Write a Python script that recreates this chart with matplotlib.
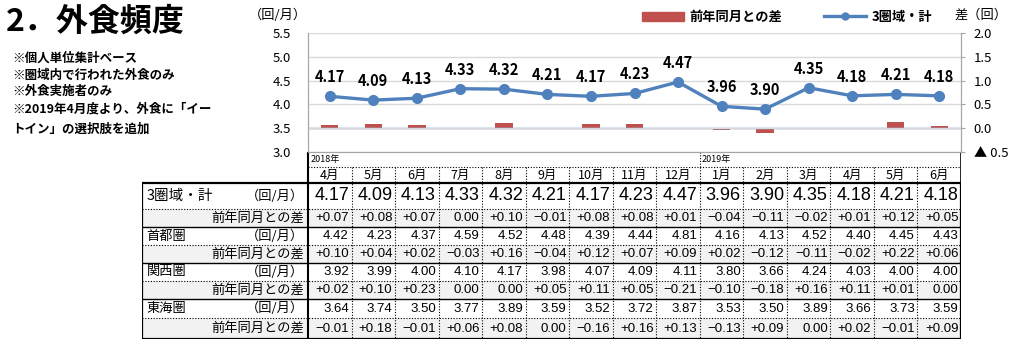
import matplotlib
matplotlib.use('Agg')
import matplotlib.pyplot as plt
from matplotlib.patches import Patch, Rectangle
from matplotlib.lines import Line2D
from matplotlib.ticker import FuncFormatter

plt.rcParams['font.family'] = ['Noto Sans CJK JP', 'DejaVu Sans']

months = ['4月', '5月', '6月', '7月', '8月', '9月', '10月', '11月', '12月',
          '1月', '2月', '3月', '4月', '5月', '6月']
total = [4.17, 4.09, 4.13, 4.33, 4.32, 4.21, 4.17, 4.23, 4.47, 3.96, 3.90, 4.35, 4.18, 4.21, 4.18]
total_diff = [0.07, 0.08, 0.07, 0.00, 0.10, -0.01, 0.08, 0.08, 0.01, -0.04, -0.11, -0.02, 0.01, 0.12, 0.05]
shuto = [4.42, 4.23, 4.37, 4.59, 4.52, 4.48, 4.39, 4.44, 4.81, 4.16, 4.13, 4.52, 4.40, 4.45, 4.43]
shuto_diff = [0.10, 0.04, 0.02, -0.03, 0.16, -0.04, 0.12, 0.07, 0.09, 0.02, -0.12, -0.11, -0.02, 0.22, 0.06]
kansai = [3.92, 3.99, 4.00, 4.10, 4.17, 3.98, 4.07, 4.09, 4.11, 3.80, 3.66, 4.24, 4.03, 4.00, 4.00]
kansai_diff = [0.02, 0.10, 0.23, 0.00, 0.00, 0.05, 0.11, 0.05, -0.21, -0.10, -0.18, 0.16, 0.11, 0.01, 0.00]
tokai = [3.64, 3.74, 3.50, 3.77, 3.89, 3.59, 3.52, 3.72, 3.87, 3.53, 3.50, 3.89, 3.66, 3.73, 3.59]
tokai_diff = [-0.01, 0.18, -0.01, 0.06, 0.08, 0.00, -0.16, 0.16, 0.13, -0.13, 0.09, 0.00, 0.02, -0.01, 0.09]
groups = ['3圏域・計', '首都圏', '関西圏', '東海圏']
notes = ['※個人単位集計ベース', '※圏域内で行われた外食のみ', '※外食実施者のみ',
         '※2019年4月度より、外食に「イー', 'トイン」の選択肢を追加']

BLUE = '#4F81BD'
RED = '#C0504D'
W, H = 1024, 350
n = len(months)
x = list(range(n))

fig = plt.figure(figsize=(W / 100, H / 100), dpi=100)

def fx(px):
    return px / W

def fy(py):
    return 1 - py / H

# ---- chart ----
L, R, T, B = 308, 961, 33, 152
ax = fig.add_axes([fx(L), fy(B), fx(R - L), (B - T) / H])
ax2 = ax.twinx()
ax.set_zorder(ax2.get_zorder() + 1)
ax.patch.set_visible(False)

ax2.bar(x, total_diff, width=0.4, color=RED, zorder=2)
ax2.axhline(0, color=BLUE, lw=1.0, zorder=3)
ax2.set_ylim(-0.5, 2.0)
ax2.set_yticks([-0.5, 0, 0.5, 1.0, 1.5, 2.0])
ax2.yaxis.set_major_formatter(FuncFormatter(lambda v, p: f'▲ {abs(v):.1f}' if v < 0 else f'{v:.1f}'))

ax.plot(x, total, color=BLUE, lw=2.4, marker='o', ms=7)
for xi, v in zip(x, total):
    ax.annotate(f'{v:.2f}', (xi, v), xytext=(0, 8), textcoords='offset points',
                ha='center', va='bottom', fontsize=10.5, fontweight='bold')
ax.set_ylim(3.0, 5.5)
ax.set_yticks([3.0, 3.5, 4.0, 4.5, 5.0, 5.5])
ax.yaxis.set_major_formatter(FuncFormatter(lambda v, p: f'{v:.1f}'))
ax.set_xlim(-0.5, n - 0.5)
ax.set_xticks([])
ax.grid(axis='y', color='#D9D9D9', lw=1.0)
ax.set_axisbelow(True)

for a in (ax, ax2):
    for s in a.spines.values():
        s.set_color('#A6A6A6')
    a.spines['top'].set_visible(False)
ax.tick_params(axis='y', length=0, pad=12, labelsize=9.5)
ax2.tick_params(axis='y', length=3, color='#A6A6A6', pad=6, labelsize=9.5)

fig.text(fx(278), fy(15), '（回/月）', ha='center', va='center', fontsize=9.5)
fig.text(fx(981), fy(15), '差（回）', ha='center', va='center', fontsize=9.5)

handles = [Patch(color=RED), Line2D([], [], color=BLUE, lw=2.4, marker='o', ms=5)]
fig.legend(handles, ['前年同月との差', '3圏域・計'], loc='center',
           bbox_to_anchor=(fx(787), fy(17)), ncol=2, frameon=False,
           handlelength=3.2, handletextpad=0.4, columnspacing=3.2,
           prop={'weight': 'bold', 'size': 9.5})

# ---- title and notes ----
fig.text(fx(6), fy(22), '2．外食頻度', ha='left', va='center', fontsize=23, fontweight='bold')
for i, t in enumerate(notes):
    fig.text(fx(12), fy([58, 75, 91, 109, 129][i]), t, ha='left', va='center',
             fontsize=9, fontweight='bold')

# ---- table ----
TL, TT, TB = 142, 152, 339
unit = (R - L) / n
xleft = -0.5 - (L - TL) / unit
tb = fig.add_axes([fx(TL), fy(TB), fx(R - TL), (TB - TT) / H])
tb.set_xlim(xleft, n - 0.5)
tb.set_ylim(TB, TT)
tb.axis('off')

rows = [152, 167, 183, 209, 227, 245, 263, 281, 299, 318, 339]
dot = (0, (1, 1.5))

# shading for difference rows
for k in range(4):
    y0, y1 = rows[3 + 2 * k], rows[4 + 2 * k]
    tb.add_patch(Rectangle((xleft, y0), n - 0.5 - xleft, y1 - y0, color='#F2F2F2', lw=0, zorder=0))

# grid lines
tb.plot([-0.5, n - 0.5], [rows[1]] * 2, color='k', lw=0.8, ls=dot)
for k in range(4):
    yd = rows[3 + 2 * k]
    tb.plot([xleft, n - 0.5], [yd, yd], color='k', lw=0.8, ls=dot)
    if k < 3:
        ys = rows[4 + 2 * k]
        tb.plot([xleft, n - 0.5], [ys, ys], color='k', lw=1.0)
for i in range(n - 1):
    tb.plot([i + 0.5] * 2, [rows[1], rows[-1]], color='k', lw=0.8, ls=dot)
tb.plot([8.5] * 2, [rows[0], rows[1]], color='k', lw=0.8, ls=dot)
tb.plot([-0.5] * 2, [rows[0], rows[-1]], color='k', lw=1.5)
tb.plot([n - 0.5] * 2, [rows[0], rows[-1]], color='k', lw=1.2)
tb.add_patch(Rectangle((xleft, rows[2]), n - 0.5 - xleft, rows[-1] - rows[2],
                       fill=False, ec='k', lw=1.6, zorder=5))

tb.text(-0.45, (rows[0] + rows[1]) / 2, '2018年', ha='left', va='center', fontsize=6.5)
tb.text(8.55, (rows[0] + rows[1]) / 2, '2019年', ha='left', va='center', fontsize=6.5)
for i, m in enumerate(months):
    tb.text(i, (rows[1] + rows[2]) / 2, m, ha='center', va='center', fontsize=9)

def fmt_diff(v):
    if v == 0:
        return '0.00'
    return f'{v:+.2f}'.replace('-', '−')

series = [(total, total_diff), (shuto, shuto_diff), (kansai, kansai_diff), (tokai, tokai_diff)]
for k, (name, (vals, diffs)) in enumerate(zip(groups, series)):
    yv = (rows[2 + 2 * k] + rows[3 + 2 * k]) / 2
    yd = (rows[3 + 2 * k] + rows[4 + 2 * k]) / 2
    big = k == 0
    tb.text(xleft + 0.1, yv, name, ha='left', va='center', fontsize=10.5 if big else 9.5)
    tb.text(-0.6, yv, '（回/月）', ha='right', va='center', fontsize=9.5)
    tb.text(-0.6, yd, '前年同月との差', ha='right', va='center', fontsize=9.5)
    for i in range(n):
        tb.text(i + 0.44, yv, f'{vals[i]:.2f}', ha='right', va='center',
                fontsize=13 if big else 9.5, family='Liberation Sans')
        tb.text(i + 0.44, yd, fmt_diff(diffs[i]), ha='right', va='center',
                fontsize=9.5, family='Liberation Sans')

fig.savefig('out.png', dpi=100)
